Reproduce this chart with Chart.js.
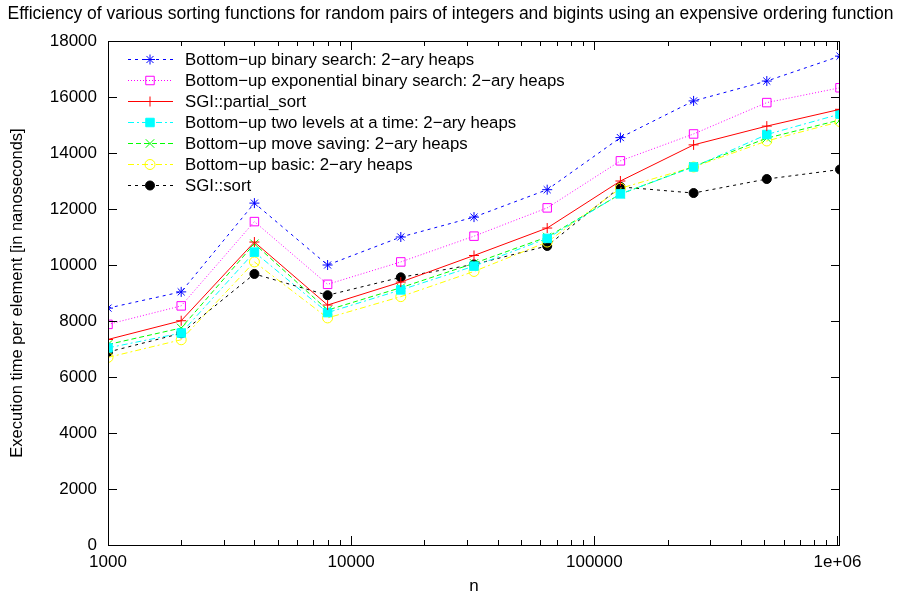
<!DOCTYPE html>
<html>
<head>
<meta charset="utf-8">
<title>Sorting efficiency</title>
<script src="https://cdn.jsdelivr.net/npm/chart.js@4/dist/chart.umd.min.js"></script>
<style>
  html, body { margin: 0; padding: 0; background: #fff; }
  #wrap { width: 901px; height: 597px; }
</style>
</head>
<body>
<div id="wrap"><canvas id="chart"></canvas></div>
<script>
// n values (x axis, log scale)
const sizes = [1000, 2000, 4000, 8000, 16000, 32000, 64000, 128000, 256000, 512000, 1024000];

// execution time per element, nanoseconds
const binarySearch = [8460, 9040, 12210, 10000, 11000, 11710, 12690, 14550, 15860, 16570, 17460];
const expBinarySearch = [7880, 8540, 11550, 9310, 10110, 11030, 12040, 13720, 14680, 15800, 16330];
const partialSort = [7340, 8010, 10820, 8570, 9390, 10340, 11320, 13000, 14290, 14960, 15560];
const twoLevels = [7040, 7570, 10460, 8300, 9110, 9960, 10950, 12540, 13500, 14660, 15390];
const moveSaving = [7160, 7750, 10760, 8390, 9190, 10060, 11000, 12530, 13520, 14530, 15180];
const basic = [6700, 7330, 10110, 8110, 8870, 9770, 10820, 12740, 13500, 14430, 15120];
const sgiSort = [6890, 7560, 9680, 8920, 9560, 10020, 10680, 12790, 12570, 13070, 13410];

const xMajorTicks = [1000, 10000, 100000, 1000000];
const xTickLabels = ["1000", "10000", "100000", "1e+06"];
const yTicks = [0, 2000, 4000, 6000, 8000, 10000, 12000, 14000, 16000, 18000];

const FONT = "'Liberation Sans', Arial, Helvetica, sans-serif";

const series = [
  { label: "Bottom\u2212up binary search: 2\u2212ary heaps", data: binarySearch, color: "#0000ff", dash: [3, 4], style: "star", radius: 5, fill: false },
  { label: "Bottom\u2212up exponential binary search: 2\u2212ary heaps", data: expBinarySearch, color: "#ff00ff", dash: [1, 2], style: "rect", radius: 6, fill: false },
  { label: "SGI::partial_sort", data: partialSort, color: "#ff0000", dash: [], style: "cross", radius: 5, fill: false },
  { label: "Bottom\u2212up two levels at a time: 2\u2212ary heaps", data: twoLevels, color: "#00ffff", dash: [6, 3, 2, 3], style: "rect", radius: 6, fill: true },
  { label: "Bottom\u2212up move saving: 2\u2212ary heaps", data: moveSaving, color: "#00ff00", dash: [5, 3], style: "crossRot", radius: 6, fill: false },
  { label: "Bottom\u2212up basic: 2\u2212ary heaps", data: basic, color: "#ffff00", dash: [6, 3, 2, 3], style: "circle", radius: 5, fill: false },
  { label: "SGI::sort", data: sgiSort, color: "#000000", dash: [3, 4], style: "circle", radius: 4.5, fill: true },
];

const datasets = series.map((s) => ({
  label: s.label,
  data: sizes.map((n, i) => ({ x: n, y: s.data[i] })),
  borderColor: s.color,
  borderWidth: 1,
  borderDash: s.dash,
  pointStyle: s.style,
  pointRadius: s.radius,
  pointBorderColor: s.color,
  pointBackgroundColor: s.fill ? s.color : "rgba(0,0,0,0)",
  pointBorderWidth: 1,
  tension: 0,
  fill: false,
}));

// gnuplot style frame with inward ticks on all four sides
const frameTicks = {
  id: "frameTicks",
  afterDatasetsDraw(chart) {
    const { ctx, chartArea: a } = chart;
    const xs = chart.scales.x;
    const ys = chart.scales.y;
    ctx.save();
    ctx.strokeStyle = "#000";
    ctx.lineWidth = 1;
    ctx.setLineDash([]);
    ctx.strokeRect(a.left + 0.5, a.top + 0.5, a.right - a.left - 1, a.bottom - a.top);
    ctx.beginPath();
    xs.ticks.forEach((t) => {
      const px = Math.round(xs.getPixelForValue(t.value)) + 0.5;
      const len = xMajorTicks.includes(t.value) ? 9 : 5;
      ctx.moveTo(px, a.bottom);
      ctx.lineTo(px, a.bottom - len);
      ctx.moveTo(px, a.top);
      ctx.lineTo(px, a.top + len);
    });
    yTicks.forEach((v) => {
      const py = Math.round(ys.getPixelForValue(v)) + 0.5;
      ctx.moveTo(a.left, py);
      ctx.lineTo(a.left + 9, py);
      ctx.moveTo(a.right, py);
      ctx.lineTo(a.right - 9, py);
    });
    ctx.stroke();
    ctx.restore();
  },
};

// key drawn inside the plot, top left
const keyBox = {
  id: "keyBox",
  afterDraw(chart) {
    const { ctx, chartArea: a } = chart;
    ctx.save();
    ctx.font = "16.8px " + FONT;
    ctx.textBaseline = "middle";
    ctx.textAlign = "left";
    series.forEach((s, i) => {
      const y = a.top + 18.5 + i * 21;
      ctx.strokeStyle = s.color;
      ctx.lineWidth = 1;
      ctx.setLineDash(s.dash);
      ctx.beginPath();
      ctx.moveTo(a.left + 20, y);
      ctx.lineTo(a.left + 65, y);
      ctx.stroke();
      ctx.setLineDash([]);
      ctx.fillStyle = s.fill ? s.color : "rgba(0,0,0,0)";
      if (Chart.helpers && Chart.helpers.drawPoint) {
        Chart.helpers.drawPoint(ctx, { pointStyle: s.style, radius: s.radius, rotation: 0, borderWidth: 1 }, a.left + 42, y);
      }
      ctx.fillStyle = "#000";
      ctx.fillText(s.label, a.left + 77, y + 1);
    });
    ctx.restore();
  },
};

Chart.defaults.color = "#000";
Chart.defaults.font.family = FONT;

new Chart(document.getElementById("chart"), {
  type: "line",
  data: { datasets },
  plugins: [frameTicks, keyBox],
  options: {
    responsive: true,
    maintainAspectRatio: false,
    animation: false,
    layout: { padding: 0 },
    plugins: {
      legend: { display: false },
      tooltip: { enabled: false },
      title: {
        display: true,
        text: "Efficiency of various sorting functions for random pairs of integers and bigints using an expensive ordering function",
        font: { size: 17.5, weight: "normal" },
        padding: { top: 3.5, bottom: 16.5 },
      },
    },
    scales: {
      x: {
        type: "logarithmic",
        min: 1000,
        max: 1024000,
        grid: { display: false, drawTicks: false },
        border: { display: false },
        afterBuildTicks(scale) {
          const ticks = [];
          for (let d = 1000; d <= 1000000; d *= 10) {
            for (let m = 1; m <= 9; m++) {
              if (d * m <= 1024000) ticks.push({ value: d * m });
            }
          }
          scale.ticks = ticks;
        },
        afterFit(scale) {
          scale.height = 52;
        },
        ticks: {
          autoSkip: false,
          maxRotation: 0,
          padding: 7,
          font: { size: 17 },
          callback(value) {
            const i = xMajorTicks.indexOf(value);
            return i >= 0 ? xTickLabels[i] : "";
          },
        },
        title: { display: true, text: "n", font: { size: 17 }, padding: { top: 0, bottom: 0 } },
      },
      y: {
        min: 0,
        max: 18000,
        grid: { display: false, drawTicks: false },
        border: { display: false },
        afterBuildTicks(scale) {
          scale.ticks = yTicks.map((v) => ({ value: v }));
        },
        afterFit(scale) {
          scale.width = 108;
        },
        ticks: {
          padding: 11,
          font: { size: 17 },
          callback: (v) => String(v),
        },
        title: {
          display: true,
          text: "Execution time per element [in nanoseconds]",
          font: { size: 16.5 },
          padding: { top: 8, bottom: 0 },
        },
      },
      // empty right-hand scale, only reserves the margin right of the frame
      yRight: {
        position: "right",
        min: 0,
        max: 18000,
        grid: { display: false, drawTicks: false },
        border: { display: false },
        ticks: { display: false },
        afterFit(scale) {
          scale.width = 61;
        },
      },
    },
  },
});
</script>
</body>
</html>
